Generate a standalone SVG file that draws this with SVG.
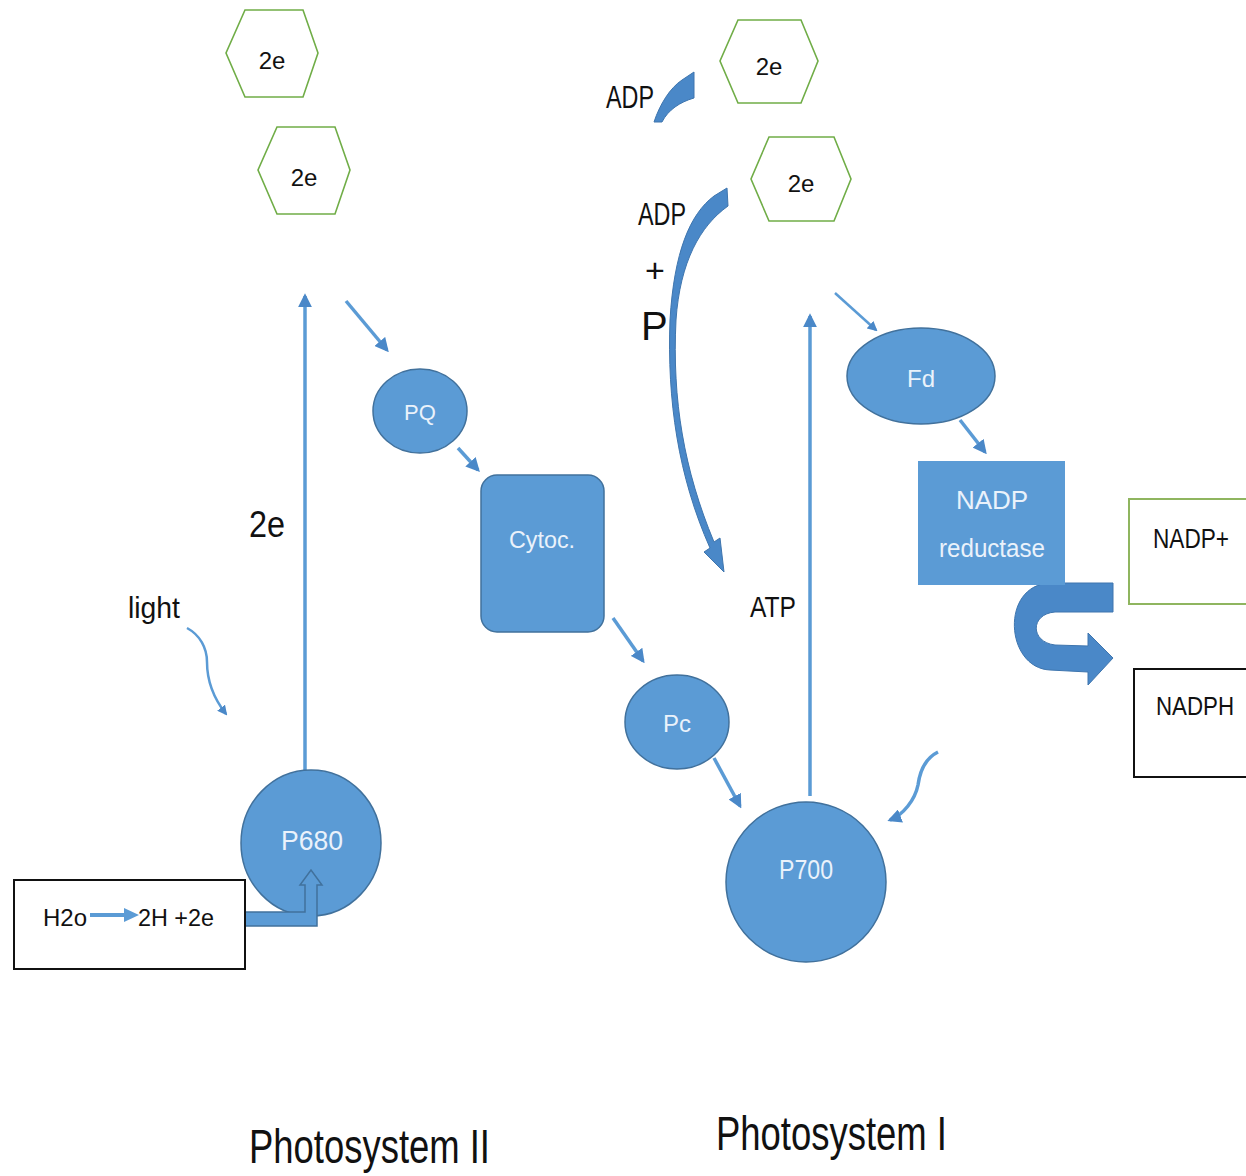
<svg xmlns="http://www.w3.org/2000/svg" width="1246" height="1176" viewBox="0 0 1246 1176">
<style>
.hex{fill:#fff;stroke:#70AD47;stroke-width:1.6}
.blue{fill:#5B9BD5;stroke:#41719C;stroke-width:1.5}
.lbl{font-family:"Liberation Sans",Arial,sans-serif;fill:#111}
.wl{font-family:"Liberation Sans",Arial,sans-serif;fill:#EAF2FB;text-anchor:middle}
.ln{fill:none;stroke:#5B9BD5;stroke-width:3.5}
.thin{fill:none;stroke:#5B9BD5;stroke-width:2.5}
.band{fill:#4A88C8;stroke:#3E75AE;stroke-width:1}
</style>
<defs>
<marker id="ah" viewBox="0 0 10 10" refX="8" refY="5" markerWidth="4" markerHeight="4" orient="auto" markerUnits="strokeWidth">
<path d="M0,0 L10,5 L0,10 Z" fill="#4A88C8"/>
</marker>
</defs>
<rect width="1246" height="1176" fill="#fff"/>

<g id="connectors">
<line class="ln" x1="305" y1="772" x2="305" y2="296" marker-end="url(#ah)"/>
<line class="ln" x1="810" y1="796" x2="810" y2="316" marker-end="url(#ah)"/>
<line class="ln" x1="346" y1="301" x2="387" y2="350" marker-end="url(#ah)"/>
<line class="ln" x1="458" y1="448" x2="478" y2="470" marker-end="url(#ah)"/>
<line class="ln" x1="613" y1="618" x2="643" y2="661" marker-end="url(#ah)"/>
<line class="ln" x1="714" y1="758" x2="740" y2="806" marker-end="url(#ah)"/>
<line class="thin" x1="835" y1="293" x2="876" y2="330" marker-end="url(#ah)"/>
<line class="ln" x1="960" y1="420" x2="985" y2="452" marker-end="url(#ah)"/>
<path class="thin" d="M187,628 C200,635 207,648 207,662 C207,682 215,700 226,714" marker-end="url(#ah)"/>
<path class="ln" d="M938,752 C926,758 920,770 918,785 C915,800 903,815 890,820" marker-end="url(#ah)"/>
<path class="band" d="M694,72 L694,98 C680,102 668,110 662,122 L654,122 C660,104 670,88 682,80 Z"/>
<path class="band" d="M727,188 L728,206 C700,226 680,262 676,320 C672,400 684,470 714,542 L720,538 L724,572 L704,552 L710,548 C678,476 667,400 670,320 C674,252 690,214 714,196 Z"/>
<path class="band" d="M1113,583 L1050,583 C1000,585 1005,668 1050,670 L1088,672 L1088,685 L1113,658 L1088,633 L1088,646 L1055,645 C1030,642 1030,614 1055,612 L1113,612 Z"/>
</g>

<g id="hex1"><polygon class="hex" points="245,10 303,10 318,53 303,97 245,97 226,53"/><text class="lbl" x="272" y="69" font-size="24" text-anchor="middle">2e</text></g>
<g id="hex2"><polygon class="hex" points="277,127 335,127 350,170 335,214 277,214 258,170"/><text class="lbl" x="304" y="186" font-size="24" text-anchor="middle">2e</text></g>
<g id="hex3"><polygon class="hex" points="738,20 801,20 818,61 801,103 738,103 720,61"/><text class="lbl" x="769" y="75" font-size="24" text-anchor="middle">2e</text></g>
<g id="hex4"><polygon class="hex" points="769,137 834,137 851,179 834,221 769,221 751,179"/><text class="lbl" x="801" y="192" font-size="24" text-anchor="middle">2e</text></g>

<g id="pq"><ellipse class="blue" cx="420" cy="411" rx="47" ry="42"/><text class="wl" x="420" y="420" font-size="22">PQ</text></g>
<g id="cytoc"><rect class="blue" x="481" y="475" width="123" height="157" rx="16"/><text class="wl" x="542" y="548" font-size="24" textLength="66" lengthAdjust="spacingAndGlyphs">Cytoc.</text></g>
<g id="pc"><ellipse class="blue" cx="677" cy="722" rx="52" ry="47"/><text class="wl" x="677" y="732" font-size="24">Pc</text></g>
<g id="p680"><ellipse class="blue" cx="311" cy="843" rx="70" ry="73"/><text class="wl" x="312" y="850" font-size="28" textLength="62" lengthAdjust="spacingAndGlyphs">P680</text></g>
<g id="p700"><circle class="blue" cx="806" cy="882" r="80"/><text class="wl" x="806" y="879" font-size="28" textLength="54" lengthAdjust="spacingAndGlyphs">P700</text></g>
<g id="fd"><ellipse class="blue" cx="921" cy="376" rx="74" ry="48"/><text class="wl" x="921" y="387" font-size="24">Fd</text></g>
<g id="nadpred"><rect x="918" y="461" width="147" height="124" fill="#5B9BD5"/><text class="wl" x="992" y="509" font-size="26">NADP</text><text class="wl" x="992" y="557" font-size="26" textLength="106" lengthAdjust="spacingAndGlyphs">reductase</text></g>

<g id="elbow"><path fill="#5B9BD5" stroke="#41719C" stroke-width="1.5" d="M245,912 L305,912 L305,885 L300,885 L311,870 L322,885 L317,885 L317,926 L245,926 Z"/></g>

<g id="h2o"><rect x="14" y="880" width="231" height="89" fill="#fff" stroke="#111" stroke-width="2"/>
<text class="lbl" x="43" y="926" font-size="24" textLength="44" lengthAdjust="spacingAndGlyphs">H2o</text>
<line x1="90" y1="915" x2="126" y2="915" stroke="#5B9BD5" stroke-width="4"/><polygon points="124,908 139,915 124,922" fill="#5B9BD5"/>
<text class="lbl" x="138" y="926" font-size="24" textLength="76" lengthAdjust="spacingAndGlyphs">2H +2e</text></g>

<g id="nadpplus"><rect x="1129" y="499" width="125" height="105" fill="#fff" stroke="#8FB55F" stroke-width="2"/><text class="lbl" x="1153" y="548" font-size="28" textLength="76" lengthAdjust="spacingAndGlyphs">NADP+</text></g>
<g id="nadph"><rect x="1134" y="669" width="120" height="108" fill="#fff" stroke="#111" stroke-width="2"/><text class="lbl" x="1156" y="715" font-size="26" textLength="78" lengthAdjust="spacingAndGlyphs">NADPH</text></g>

<g id="labels">
<text class="lbl" x="128" y="618" font-size="30" textLength="52" lengthAdjust="spacingAndGlyphs">light</text>
<text class="lbl" x="249" y="537" font-size="36" textLength="36" lengthAdjust="spacingAndGlyphs">2e</text>
<text class="lbl" x="750" y="617" font-size="30" textLength="46" lengthAdjust="spacingAndGlyphs">ATP</text>
<text class="lbl" x="606" y="108" font-size="32" textLength="48" lengthAdjust="spacingAndGlyphs">ADP</text>
<text class="lbl" x="638" y="225" font-size="32" textLength="48" lengthAdjust="spacingAndGlyphs">ADP</text>
<text class="lbl" x="645" y="282" font-size="34">+</text>
<text class="lbl" x="641" y="340" font-size="40">P</text>
<text class="lbl" x="249" y="1163" font-size="48" textLength="241" lengthAdjust="spacingAndGlyphs">Photosystem II</text>
<text class="lbl" x="716" y="1150" font-size="48" textLength="231" lengthAdjust="spacingAndGlyphs">Photosystem I</text>
</g>
</svg>
